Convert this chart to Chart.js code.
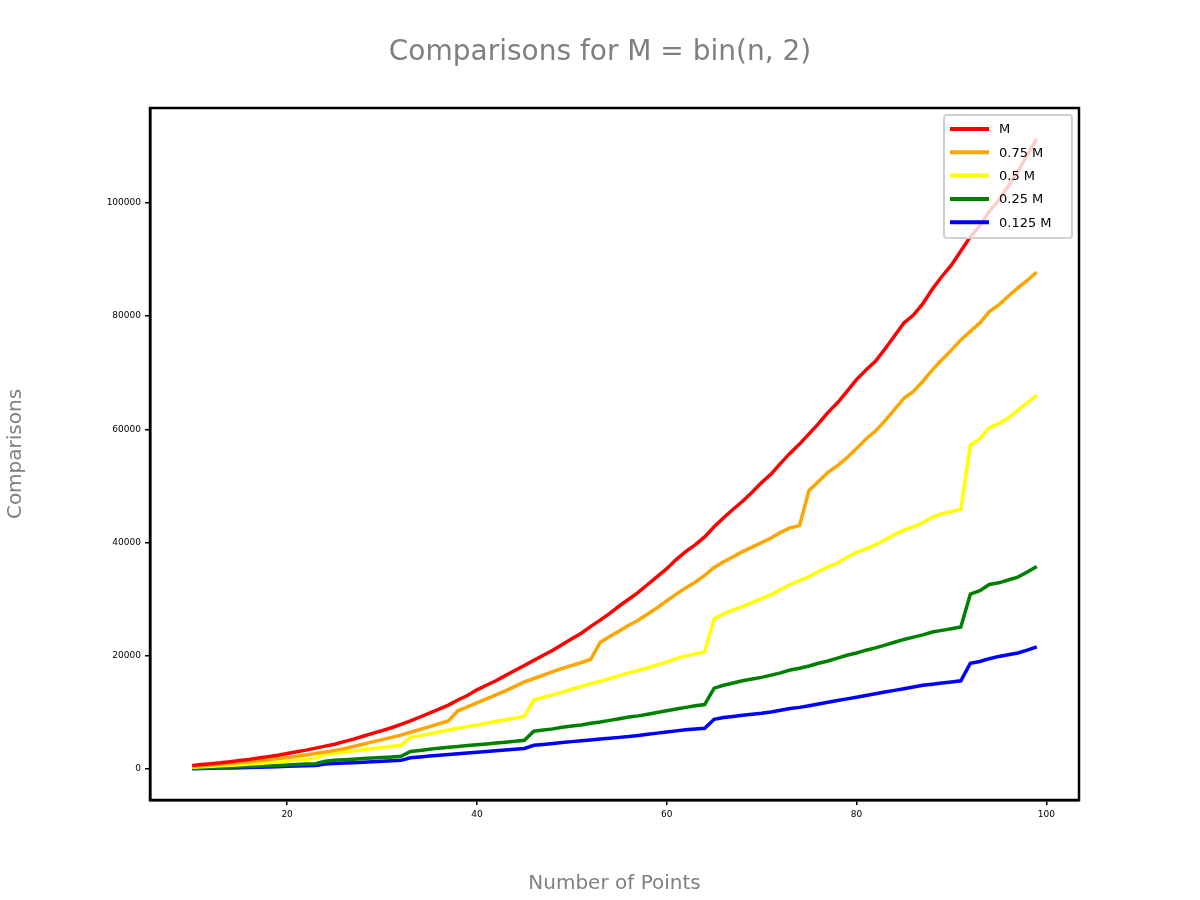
<!DOCTYPE html>
<html><head><meta charset="utf-8">
<script src="https://cdn.jsdelivr.net/npm/chart.js@4"></script>
<style>html,body{margin:0;padding:0;background:#fff}#wrap{width:1200px;height:900px}</style>
</head><body><div id="wrap"><canvas id="c" width="1200" height="900"></canvas></div>
<script>
const xs = []; for (let n = 10; n <= 99; n++) xs.push(n);
const seriesNames = ["M","0.75 M","0.5 M","0.25 M","0.125 M"];
const colors = ["#ff0000","#ffa500","#ffff00","#008000","#0000ff"];
const xTicks = [20,40,60,80,100];
const yTicks = [0,20000,40000,60000,80000,100000];
const mVals = [650,800,950,1100,1300,1500,1700,1950,2200,2450,
2750,3050,3350,3700,4050,4400,4850,5300,5800,6300,
6800,7300,7900,8500,9200,9900,10600,11300,12200,13000,
14000,14800,15600,16500,17400,18300,19200,20100,21000,22000,
23000,24000,25200,26300,27500,28800,30000,31200,32600,34000,
35400,37000,38400,39600,41000,42800,44400,45900,47300,48900,
50600,52100,54000,55800,57400,59200,61000,63000,64700,66700,
68800,70500,72000,74200,76500,78800,80200,82200,84800,87000,
89000,91500,94000,96000,98500,100500,103000,105500,108500,111300];
const m75Vals = [480,600,720,850,1000,1150,1300,1450,1650,1850,
2050,2250,2500,2750,3000,3300,3600,4000,4400,4800,
5200,5600,6000,6500,7000,7500,8000,8500,10300,11000,
11700,12400,13100,13800,14600,15400,16000,16600,17200,17800,
18300,18800,19400,22400,23400,24400,25400,26300,27400,28500,
29700,30900,32000,33000,34200,35600,36600,37500,38400,39200,
40000,40800,41800,42600,43000,49200,50800,52400,53600,55000,
56600,58300,59700,61500,63500,65500,66700,68500,70500,72300,
74000,75800,77300,78800,80800,82000,83500,85000,86300,87800];
const m50Vals = [320,400,480,570,670,780,890,1000,1120,1250,
1400,1550,1700,1900,2600,2800,3000,3200,3400,3600,
3800,4000,4200,5600,5900,6200,6600,6900,7200,7500,
7800,8100,8400,8700,9000,9300,12200,12700,13100,13600,
14100,14600,15100,15500,16000,16500,17000,17400,17900,18400,
18900,19500,20000,20300,20700,26500,27400,28100,28700,29400,
30100,30800,31700,32600,33300,34000,34900,35700,36400,37400,
38300,38900,39600,40500,41400,42200,42800,43500,44500,45100,
45500,45900,57200,58300,60300,61000,62000,63400,64700,66000];
const m25Vals = [160,200,250,300,350,400,460,520,580,650,
720,800,880,960,1400,1550,1650,1750,1850,1950,
2050,2150,2250,3100,3300,3500,3700,3850,4000,4150,
4300,4450,4600,4750,4900,5100,6700,6900,7100,7400,
7600,7800,8100,8300,8600,8900,9200,9400,9700,10000,
10300,10600,10900,11200,11400,14300,14800,15200,15600,15900,
16200,16600,17000,17500,17800,18200,18700,19100,19600,20100,
20500,21000,21400,21900,22400,22900,23300,23700,24200,24500,
24800,25100,30900,31500,32600,32900,33400,33900,34800,35800];
const m125Vals = [80,110,140,170,210,250,290,330,380,430,
480,530,580,640,900,980,1060,1140,1220,1300,
1380,1460,1540,2000,2150,2300,2450,2580,2700,2830,
2960,3090,3220,3350,3500,3650,4200,4350,4500,4700,
4850,5000,5150,5300,5450,5600,5750,5950,6150,6350,
6550,6750,6950,7100,7200,8800,9100,9300,9500,9700,
9850,10100,10400,10700,10900,11200,11500,11800,12100,12400,
12700,13000,13300,13600,13900,14200,14500,14800,15000,15200,
15400,15600,18700,19000,19500,19900,20200,20500,21000,21600];
const allVals = [mVals,m75Vals,m50Vals,m25Vals,m125Vals];

const datasets = allVals.map((v,i)=>({label:seriesNames[i],data:v.map((y,j)=>({x:xs[j],y})),
  borderColor:colors[i],backgroundColor:colors[i],borderWidth:3.5,pointRadius:0,tension:0,fill:false}));

const overlay = {id:'overlay',afterDraw(ch){
  const c=ch.ctx;
  c.save();
  c.fillStyle='#808080';c.font='28px "DejaVu Sans"';c.textAlign='center';c.textBaseline='middle';
  c.fillText('Comparisons for M = bin(n, 2)',600,53);
  // legend
  const x0=944,y0=115,w=128,h=123;
  c.fillStyle='rgba(255,255,255,0.8)';c.strokeStyle='#d0d0d0';c.lineWidth=2;
  c.beginPath();c.roundRect(x0,y0,w,h,3);c.fill();c.stroke();
  c.font='13px "DejaVu Sans"';c.textAlign='left';
  ch.data.datasets.forEach((d,i)=>{
    const y=129+i*23.3;
    c.strokeStyle=d.borderColor;c.lineWidth=4;
    c.beginPath();c.moveTo(950,y);c.lineTo(989,y);c.stroke();
    c.fillStyle='#000';c.fillText(d.label,999,y+1);
  });
  // frame
  const a=ch.chartArea;c.strokeStyle='#000';c.lineWidth=2.5;
  c.strokeRect(a.left,a.top,a.right-a.left,a.bottom-a.top);
  c.restore();
}};

new Chart(document.getElementById('c'),{type:'line',data:{datasets},
 plugins:[overlay],
 options:{responsive:false,animation:false,
  layout:{padding:{left:0,top:108,right:121,bottom:0}},
  plugins:{legend:{display:false},title:{display:false},tooltip:{enabled:false}},
  scales:{
   x:{type:'linear',min:5.55,max:103.45,
     afterBuildTicks(s){s.ticks=xTicks.map(v=>({value:v}));},
     afterFit(s){s.height=100;},
     grid:{drawOnChartArea:false,tickLength:5,color:'#000',lineWidth:1.5},
     border:{color:'#000',width:2.5},
     ticks:{font:{size:9,family:'DejaVu Sans'},color:'#000',padding:4,maxRotation:0},
     title:{display:true,text:'Number of Points',color:'#808080',font:{size:20,family:'DejaVu Sans'},padding:{top:26}}},
   y:{type:'linear',min:-5460,max:116760,
     afterBuildTicks(s){s.ticks=yTicks.map(v=>({value:v}));},
     afterFit(s){s.width=150;},
     grid:{drawOnChartArea:false,tickLength:5,color:'#000',lineWidth:1.5},
     border:{color:'#000',width:2.5},
     ticks:{font:{size:9,family:'DejaVu Sans'},color:'#000',padding:4,callback:v=>String(v)},
     title:{display:true,text:'Comparisons',color:'#808080',font:{size:20,family:'DejaVu Sans'},padding:{bottom:20}}}
  }}});
</script></body></html>
